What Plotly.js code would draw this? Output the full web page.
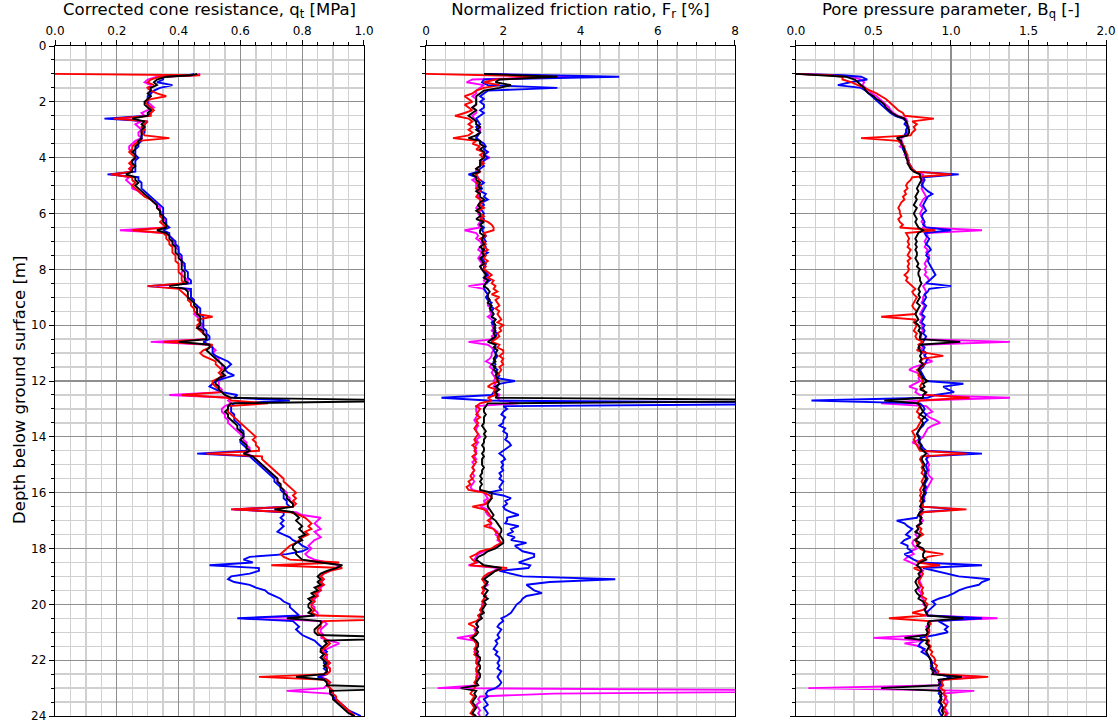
<!DOCTYPE html>
<html>
<head>
<meta charset="utf-8">
<script src="https://cdn.plot.ly/plotly-3.0.1.min.js"></script>
<style>html,body{margin:0;padding:0;background:#fff;}#chart{width:1118px;height:723px;}</style>
</head>
<body>
<div id="chart"></div>
<script>
// Depth below ground surface [m] (shared sampling for all series)
const depth = [1.0,1.05,
1.1,1.2,1.3,1.4,1.5,1.6,1.7,1.8,1.9,2.0,
2.1,2.2,2.3,2.4,2.5,2.6,2.7,2.8,2.9,3.0,
3.1,3.2,3.3,3.4,3.5,3.6,3.7,3.8,3.9,4.0,
4.1,4.2,4.3,4.4,4.5,4.6,4.7,4.8,4.9,5.0,
5.1,5.2,5.3,5.4,5.5,5.6,5.7,5.8,5.9,6.0,
6.1,6.2,6.3,6.4,6.5,6.6,6.7,6.8,6.9,7.0,
7.1,7.2,7.3,7.4,7.5,7.6,7.7,7.8,7.9,8.0,
8.1,8.2,8.3,8.4,8.5,8.6,8.7,8.8,8.9,9.0,
9.1,9.2,9.3,9.4,9.5,9.6,9.7,9.8,9.9,10.0,
10.1,10.2,10.3,10.4,10.5,10.6,10.7,10.8,10.9,11.0,
11.1,11.2,11.3,11.4,11.5,11.6,11.7,11.8,11.9,12.0,
12.1,12.2,12.3,12.4,12.5,12.6,12.7,12.8,12.9,13.0,
13.1,13.2,13.3,13.4,13.5,13.6,13.7,13.8,13.9,14.0,
14.1,14.2,14.3,14.4,14.5,14.6,14.7,14.8,14.9,15.0,
15.1,15.2,15.3,15.4,15.5,15.6,15.7,15.8,15.9,16.0,
16.1,16.2,16.3,16.4,16.5,16.6,16.7,16.8,16.9,17.0,
17.1,17.2,17.3,17.4,17.5,17.6,17.7,17.8,17.9,18.0,
18.1,18.2,18.3,18.4,18.5,18.6,18.7,18.8,18.9,19.0,
19.1,19.2,19.3,19.4,19.5,19.6,19.7,19.8,19.9,20.0,
20.1,20.2,20.3,20.4,20.5,20.6,20.7,20.8,20.9,21.0,
21.1,21.2,21.3,21.4,21.5,21.6,21.7,21.8,21.9,22.0,
22.1,22.2,22.3,22.4,22.5,22.6,22.7,22.8,22.9,23.0,
23.1,23.2,23.3,23.4,23.5,23.6,23.7,23.8,23.9,24.0];

// ---- Corrected cone resistance qt [MPa] ----
const qtRed = [0.00,0.47,
0.34,0.31,0.30,0.32,0.30,0.31,0.33,0.36,0.31,0.29,
0.30,0.31,0.32,0.31,0.31,0.19,0.30,0.29,0.28,0.29,
0.28,0.29,0.37,0.27,0.26,0.25,0.25,0.24,0.25,0.26,
0.25,0.24,0.25,0.24,0.25,0.18,0.25,0.25,0.26,0.25,
0.26,0.27,0.28,0.29,0.31,0.32,0.33,0.33,0.34,0.34,
0.34,0.35,0.34,0.35,0.36,0.25,0.35,0.36,0.36,0.37,
0.37,0.38,0.38,0.38,0.39,0.39,0.39,0.40,0.40,0.40,
0.40,0.41,0.41,0.41,0.42,0.30,0.40,0.41,0.42,0.43,
0.43,0.44,0.44,0.45,0.45,0.46,0.51,0.46,0.47,0.46,
0.46,0.47,0.48,0.49,0.49,0.35,0.51,0.50,0.48,0.47,
0.48,0.50,0.52,0.52,0.53,0.54,0.53,0.54,0.53,0.51,
0.51,0.52,0.53,0.54,0.41,0.56,0.57,0.69,0.56,0.56,
0.56,0.57,0.58,0.59,0.60,0.61,0.62,0.63,0.64,0.65,
0.64,0.65,0.65,0.66,0.66,0.49,0.67,0.67,0.68,0.69,
0.70,0.71,0.72,0.73,0.74,0.74,0.75,0.76,0.77,0.78,
0.77,0.78,0.77,0.78,0.77,0.57,0.76,0.79,0.81,0.82,
0.83,0.82,0.83,0.81,0.82,0.80,0.79,0.78,0.76,0.75,
0.74,0.73,0.74,0.76,0.92,0.70,0.93,0.89,0.87,0.86,
0.87,0.86,0.87,0.85,0.86,0.84,0.85,0.83,0.84,0.83,
0.83,0.84,0.83,0.85,1.20,0.87,0.86,0.86,0.85,0.85,
0.86,0.87,0.88,0.89,0.88,0.87,0.86,0.88,0.87,0.88,
0.89,0.88,0.89,0.89,0.88,0.66,0.88,0.89,0.88,0.89,
0.90,0.90,0.91,0.91,0.92,0.93,0.94,0.95,0.96,0.97];
const qtMagenta = [0.47,0.45,
0.33,0.30,0.29,0.31,0.30,0.31,0.31,0.31,0.30,0.30,
0.31,0.32,0.30,0.28,0.29,0.22,0.28,0.26,0.27,0.28,
0.27,0.27,0.28,0.26,0.25,0.24,0.24,0.25,0.26,0.26,
0.25,0.25,0.25,0.24,0.25,0.19,0.24,0.23,0.24,0.25,
0.25,0.27,0.28,0.30,0.31,0.32,0.33,0.34,0.34,0.35,
0.35,0.35,0.36,0.36,0.36,0.21,0.36,0.37,0.38,0.38,
0.39,0.39,0.40,0.40,0.40,0.41,0.41,0.41,0.42,0.42,
0.41,0.41,0.42,0.43,0.43,0.33,0.43,0.44,0.44,0.44,
0.45,0.45,0.46,0.46,0.46,0.45,0.46,0.47,0.47,0.48,
0.47,0.48,0.48,0.49,0.49,0.31,0.50,0.51,0.52,0.51,
0.52,0.53,0.53,0.54,0.54,0.55,0.54,0.55,0.54,0.53,
0.53,0.53,0.54,0.54,0.37,0.57,0.56,0.57,0.55,0.54,
0.54,0.55,0.55,0.56,0.56,0.57,0.58,0.59,0.60,0.61,
0.61,0.62,0.62,0.63,0.63,0.62,0.64,0.65,0.66,0.67,
0.68,0.69,0.70,0.71,0.72,0.72,0.73,0.73,0.74,0.75,
0.75,0.76,0.76,0.77,0.77,0.57,0.78,0.80,0.86,0.85,
0.84,0.85,0.86,0.84,0.85,0.86,0.84,0.83,0.82,0.83,
0.82,0.81,0.82,0.84,0.88,0.92,0.91,0.89,0.87,0.86,
0.87,0.86,0.87,0.86,0.86,0.85,0.85,0.84,0.84,0.83,
0.84,0.84,0.85,0.85,0.61,0.87,0.88,0.87,0.86,0.86,
0.87,0.86,0.89,0.92,0.90,0.88,0.87,0.88,0.88,0.88,
0.89,0.88,0.89,0.89,0.88,0.86,0.88,0.89,0.88,0.87,
0.75,0.89,0.90,0.90,0.92,0.93,0.94,0.95,0.96,0.96];
const qtBlue = [0.45,0.43,
0.35,0.35,0.33,0.38,0.34,0.32,0.31,0.30,0.30,0.30,
0.30,0.31,0.31,0.31,0.30,0.16,0.30,0.29,0.29,0.29,
0.29,0.28,0.28,0.28,0.27,0.27,0.26,0.26,0.26,0.27,
0.26,0.26,0.26,0.26,0.26,0.17,0.27,0.27,0.28,0.28,
0.28,0.29,0.30,0.31,0.32,0.33,0.34,0.35,0.35,0.35,
0.35,0.36,0.36,0.36,0.37,0.35,0.37,0.37,0.38,0.39,
0.39,0.40,0.40,0.40,0.41,0.41,0.41,0.42,0.42,0.42,
0.43,0.43,0.43,0.44,0.44,0.30,0.44,0.44,0.44,0.44,
0.45,0.45,0.46,0.47,0.47,0.47,0.48,0.48,0.48,0.48,
0.48,0.49,0.49,0.50,0.50,0.48,0.50,0.51,0.51,0.51,
0.52,0.54,0.56,0.57,0.56,0.55,0.56,0.58,0.55,0.52,
0.51,0.50,0.52,0.54,0.59,0.58,0.76,0.58,0.57,0.57,
0.57,0.58,0.58,0.58,0.59,0.60,0.60,0.61,0.61,0.61,
0.60,0.60,0.61,0.62,0.62,0.46,0.63,0.64,0.65,0.66,
0.67,0.68,0.69,0.70,0.71,0.71,0.72,0.73,0.73,0.74,
0.74,0.74,0.75,0.75,0.76,0.58,0.74,0.74,0.73,0.74,
0.73,0.74,0.73,0.72,0.74,0.76,0.77,0.79,0.80,0.82,
0.80,0.75,0.63,0.61,0.64,0.50,0.66,0.66,0.63,0.57,
0.56,0.58,0.63,0.65,0.68,0.69,0.71,0.73,0.74,0.76,
0.76,0.77,0.78,0.79,0.59,0.77,0.78,0.79,0.78,0.79,
0.80,0.82,0.84,0.85,0.86,0.87,0.88,0.87,0.86,0.87,
0.87,0.88,0.87,0.88,0.88,0.85,0.88,0.89,0.88,0.89,
0.89,0.90,0.90,0.91,0.92,0.93,0.94,0.95,0.97,0.99];
const qtBlack = [0.46,0.44,
0.36,0.33,0.32,0.33,0.31,0.31,0.30,0.31,0.30,0.29,
0.29,0.30,0.31,0.30,0.30,0.25,0.29,0.28,0.29,0.28,
0.28,0.28,0.28,0.27,0.27,0.26,0.26,0.25,0.26,0.26,
0.25,0.25,0.26,0.25,0.25,0.23,0.26,0.26,0.27,0.26,
0.27,0.28,0.29,0.30,0.31,0.32,0.33,0.33,0.34,0.34,
0.35,0.35,0.35,0.36,0.36,0.33,0.36,0.37,0.37,0.38,
0.38,0.39,0.39,0.39,0.40,0.40,0.41,0.41,0.41,0.41,
0.42,0.42,0.42,0.42,0.43,0.37,0.42,0.43,0.43,0.43,
0.44,0.45,0.45,0.46,0.46,0.46,0.47,0.47,0.47,0.47,
0.46,0.48,0.48,0.49,0.49,0.40,0.50,0.50,0.49,0.50,
0.51,0.52,0.53,0.54,0.55,0.55,0.54,0.55,0.53,0.52,
0.52,0.53,0.53,0.54,0.55,0.57,1.20,0.57,0.56,0.56,
0.55,0.56,0.56,0.57,0.58,0.59,0.59,0.60,0.61,0.61,
0.60,0.61,0.62,0.62,0.63,0.61,0.64,0.65,0.66,0.67,
0.68,0.69,0.70,0.71,0.72,0.72,0.73,0.73,0.74,0.74,
0.75,0.75,0.76,0.77,0.77,0.71,0.77,0.78,0.79,0.78,
0.79,0.80,0.79,0.80,0.81,0.79,0.80,0.78,0.77,0.77,
0.78,0.78,0.79,0.80,0.86,0.93,0.91,0.88,0.86,0.85,
0.86,0.85,0.86,0.84,0.85,0.83,0.84,0.82,0.83,0.82,
0.82,0.83,0.82,0.84,0.75,0.86,0.86,0.85,0.84,0.84,
0.85,1.20,0.87,0.88,0.87,0.86,0.86,0.87,0.86,0.87,
0.88,0.87,0.88,0.88,0.87,0.78,0.87,0.88,0.88,1.20,
0.89,0.89,0.90,0.90,0.91,0.92,0.93,0.94,0.95,0.97];

// ---- Normalized friction ratio Fr [%] ----
const frRed = [0.0,2.0,
3.3,1.8,1.5,1.9,1.5,1.3,1.2,1.0,1.1,1.2,
1.0,1.1,1.2,1.0,0.75,1.1,1.2,1.1,1.2,1.1,
1.2,1.1,0.7,1.3,1.2,1.4,1.3,1.5,1.4,1.5,
1.4,1.5,1.4,1.3,1.4,1.3,1.3,1.4,1.3,1.4,
1.3,1.4,1.35,1.3,1.4,1.45,1.4,1.5,1.35,1.4,
1.5,1.4,1.6,1.7,1.75,1.75,1.5,1.55,1.4,1.5,
1.55,1.5,1.6,1.45,1.55,1.5,1.6,1.5,1.55,1.5,
1.6,1.7,1.6,1.75,1.7,1.8,1.75,1.85,1.7,1.9,
1.8,1.85,1.9,1.8,1.9,1.85,1.9,1.95,1.85,2.0,
1.9,1.95,1.85,1.9,1.8,1.7,1.9,1.85,2.0,2.0,
1.9,2.0,1.95,2.0,1.9,1.95,1.9,1.85,1.8,1.9,
1.7,1.6,1.8,1.75,1.8,1.6,1.7,1.4,1.3,1.4,
1.35,1.3,1.4,1.3,1.35,1.3,1.25,1.3,1.35,1.3,
1.25,1.3,1.2,1.3,1.25,1.3,1.2,1.25,1.3,1.25,
1.2,1.25,1.2,1.15,1.2,1.1,1.15,1.05,1.1,1.5,
1.65,1.7,1.6,1.55,1.2,1.5,1.6,1.65,1.7,1.6,
1.7,1.5,1.75,1.8,1.9,1.85,1.9,1.95,1.8,1.7,
1.4,1.3,1.15,1.2,1.3,1.14,2.1,1.8,1.6,1.5,
1.45,1.5,1.55,1.45,1.5,1.45,1.55,1.5,1.45,1.5,
1.45,1.4,1.45,1.35,1.4,1.3,1.1,1.25,1.3,1.3,
1.25,1.15,1.25,1.3,1.3,1.25,1.3,1.25,1.35,1.3,
1.3,1.35,1.3,1.3,1.35,1.3,1.3,1.25,1.3,1.25,
1.2,1.15,1.25,1.2,1.15,1.2,1.25,1.2,1.15,1.25];
const frMagenta = [1.5,2.6,
3.7,1.2,1.05,1.5,1.4,1.3,1.3,1.2,1.3,1.3,
1.3,1.2,1.3,1.3,1.2,1.25,1.3,1.3,1.4,1.4,
1.4,1.3,1.3,1.4,1.4,1.5,1.5,1.6,1.5,1.65,
1.5,1.4,1.4,1.3,1.3,1.3,1.35,1.2,1.3,1.3,
1.3,1.35,1.4,1.35,1.4,1.4,1.35,1.3,1.4,1.35,
1.4,1.45,1.4,1.35,1.4,1.0,1.3,1.35,1.3,1.4,
1.45,1.4,1.35,1.45,1.4,1.35,1.4,1.45,1.4,1.45,
1.5,1.6,1.55,1.5,1.6,1.1,1.5,1.55,1.6,1.6,
1.65,1.6,1.6,1.7,1.65,1.7,1.6,1.7,1.75,1.7,
1.75,1.7,1.8,1.7,1.75,1.1,1.6,1.7,1.75,1.7,
1.7,1.65,1.55,1.7,1.65,1.75,1.7,1.75,1.8,1.75,
1.8,1.75,1.85,1.8,1.9,1.85,1.9,2.4,1.3,1.3,
1.3,1.35,1.3,1.25,1.3,1.35,1.3,1.3,1.35,1.4,
1.3,1.35,1.3,1.25,1.3,1.3,1.25,1.3,1.2,1.25,
1.2,1.25,1.2,1.25,1.2,1.25,1.2,1.15,1.2,1.5,
1.55,1.6,1.5,1.55,1.4,1.6,1.55,1.6,1.7,1.65,
1.7,1.65,1.75,1.85,1.8,1.9,1.85,1.95,1.85,1.75,
1.5,1.35,1.3,1.25,1.35,1.1,1.9,1.75,1.6,1.55,
1.5,1.55,1.6,1.5,1.5,1.45,1.55,1.5,1.5,1.45,
1.45,1.4,1.45,1.35,1.4,1.35,1.3,1.35,1.25,1.3,
1.25,0.8,1.25,1.3,1.35,1.3,1.25,1.35,1.3,1.35,
1.3,1.35,1.3,1.35,1.3,1.35,1.3,1.3,1.35,0.3,
12.0,3.3,1.4,1.35,1.4,1.3,1.35,1.4,1.35,1.4];
const frBlue = [1.5,3.0,
5.0,1.5,1.45,1.6,3.4,1.6,1.5,1.4,1.5,1.4,
1.5,1.5,1.4,1.5,1.4,1.3,1.35,1.4,1.3,1.35,
1.4,1.35,1.3,1.4,1.5,1.55,1.5,1.6,1.5,1.6,
1.5,1.45,1.5,1.4,1.35,1.1,1.3,1.4,1.5,1.4,
1.45,1.4,1.55,1.5,1.6,1.45,1.5,1.4,1.45,1.5,
1.45,1.5,1.45,1.4,1.5,1.45,1.5,1.55,1.5,1.55,
1.5,1.55,1.45,1.6,1.5,1.45,1.5,1.55,1.5,1.5,
1.55,1.6,1.5,1.65,1.55,1.5,1.5,1.55,1.6,1.55,
1.6,1.7,1.65,1.75,1.7,1.75,1.7,1.8,1.7,1.75,
1.8,1.75,1.85,1.8,1.75,1.7,1.8,1.8,1.75,1.8,
1.85,1.8,1.75,1.8,1.75,1.85,1.8,1.9,1.85,2.3,
1.9,1.85,1.8,1.75,1.7,0.4,1.6,12.0,2.0,2.1,
2.0,1.95,2.05,2.0,2.0,1.9,2.05,2.0,2.1,2.1,
2.05,2.15,2.2,2.1,2.0,1.9,2.0,2.05,1.95,2.0,
1.95,2.0,1.9,1.95,1.9,2.0,1.95,1.9,1.95,1.6,
2.0,2.2,2.05,2.1,2.0,2.05,2.2,2.4,2.1,2.1,
2.05,2.4,2.2,2.25,2.1,2.3,2.2,2.6,2.3,2.4,
2.5,2.8,2.8,2.6,2.4,2.7,2.65,1.9,2.2,2.5,
4.9,3.2,2.6,2.7,2.8,3.0,2.6,2.5,2.45,2.35,
2.3,2.25,2.2,2.1,1.95,2.0,1.9,1.85,1.95,1.9,
1.85,1.9,1.8,1.85,1.8,1.75,1.85,1.8,1.9,1.9,
1.85,1.9,1.85,1.95,1.9,1.85,1.9,1.95,1.9,1.8,
1.6,1.55,1.6,1.5,1.55,1.6,1.5,1.55,1.6,1.55];
const frBlack = [1.5,2.5,
3.4,1.9,1.8,2.2,1.9,1.5,1.4,1.3,1.3,1.3,
1.3,1.2,1.3,1.2,1.1,1.2,1.3,1.3,1.4,1.3,
1.4,1.3,1.1,1.4,1.4,1.5,1.4,1.5,1.5,1.5,
1.4,1.4,1.4,1.3,1.4,1.2,1.3,1.3,1.4,1.35,
1.4,1.3,1.4,1.4,1.5,1.4,1.35,1.4,1.3,1.4,
1.4,1.3,1.5,1.4,1.45,1.4,1.4,1.5,1.45,1.45,
1.5,1.4,1.5,1.45,1.5,1.4,1.45,1.5,1.4,1.45,
1.5,1.55,1.5,1.6,1.55,1.5,1.6,1.65,1.6,1.6,
1.65,1.6,1.7,1.65,1.7,1.75,1.7,1.8,1.75,1.8,
1.75,1.8,1.75,1.8,1.7,1.6,1.8,1.75,1.85,1.8,
1.8,1.75,1.8,1.7,1.8,1.75,1.85,1.8,1.85,1.85,
1.9,1.8,1.9,1.8,1.85,1.8,12.0,1.6,1.55,1.5,
1.5,1.55,1.5,1.5,1.5,1.45,1.5,1.55,1.5,1.55,
1.5,1.5,1.45,1.5,1.5,1.45,1.5,1.45,1.45,1.45,
1.5,1.45,1.45,1.4,1.45,1.4,1.45,1.4,1.4,1.7,
1.7,1.7,1.65,1.6,1.6,1.65,1.7,1.75,1.7,1.8,
1.85,1.9,1.95,1.95,1.9,1.95,2.0,2.0,1.9,1.8,
1.6,1.5,1.35,1.3,1.4,1.5,1.95,1.8,1.7,1.6,
1.5,1.6,1.55,1.5,1.6,1.55,1.5,1.6,1.5,1.55,
1.5,1.45,1.5,1.4,1.45,1.35,1.3,1.35,1.3,1.35,
1.3,1.2,1.3,1.35,1.35,1.3,1.35,1.3,1.4,1.4,
1.35,1.4,1.4,1.35,1.4,1.4,1.35,1.3,1.35,0.9,
1.3,1.25,1.3,1.25,1.2,1.25,1.3,1.25,1.2,1.3];

// ---- Pore pressure parameter Bq [-] ----
const bqRed = [0.00,0.22,
0.30,0.30,0.36,0.40,0.45,0.48,0.52,0.55,0.58,0.60,
0.62,0.64,0.66,0.69,0.70,0.89,0.75,0.78,0.76,0.77,
0.75,0.74,0.42,0.66,0.68,0.70,0.70,0.71,0.72,0.72,
0.72,0.73,0.74,0.75,0.77,1.00,0.75,0.74,0.72,0.71,
0.72,0.70,0.71,0.69,0.70,0.68,0.67,0.66,0.67,0.67,
0.68,0.66,0.67,0.69,0.67,0.90,0.71,0.72,0.73,0.72,
0.73,0.72,0.74,0.73,0.72,0.74,0.72,0.73,0.72,0.73,
0.72,0.70,0.72,0.71,0.73,0.75,0.77,0.75,0.76,0.78,
0.77,0.76,0.75,0.76,0.78,0.77,0.55,0.77,0.76,0.78,
0.77,0.76,0.78,0.77,0.78,0.82,0.79,0.80,0.78,0.85,
0.95,0.82,0.80,0.83,0.81,0.78,0.80,0.79,0.81,0.82,
0.81,0.80,0.82,0.83,0.84,1.12,0.80,0.78,0.80,0.79,
0.78,0.80,0.79,0.81,0.80,0.79,0.78,0.75,0.76,0.77,
0.76,0.77,0.78,0.79,0.80,1.10,0.81,0.80,0.81,0.82,
0.81,0.82,0.81,0.83,0.82,0.81,0.82,0.81,0.80,0.81,
0.80,0.81,0.80,0.82,0.81,1.10,0.82,0.80,0.81,0.80,
0.80,0.79,0.81,0.80,0.82,0.79,0.77,0.78,0.79,0.80,
0.83,0.95,0.85,0.82,0.78,0.93,0.76,0.80,0.82,0.81,
0.80,0.79,0.80,0.82,0.81,0.82,0.81,0.84,0.83,0.85,
0.84,0.82,0.75,0.84,0.60,0.86,0.87,0.85,0.86,0.86,
0.85,0.84,0.86,0.85,0.87,0.86,0.88,0.87,0.89,0.90,
0.89,0.91,0.90,0.92,0.91,1.24,0.95,0.94,0.95,0.93,
0.96,0.95,0.97,0.96,0.95,0.97,0.96,0.95,0.97,0.96];
const bqMagenta = [0.00,0.25,
0.36,0.42,0.44,0.43,0.45,0.47,0.49,0.52,0.54,0.56,
0.58,0.60,0.61,0.63,0.66,0.71,0.72,0.71,0.73,0.72,
0.72,0.71,0.68,0.68,0.69,0.67,0.70,0.71,0.70,0.72,
0.73,0.72,0.74,0.75,0.77,0.82,0.81,0.82,0.81,0.82,
0.81,0.82,0.83,0.84,0.82,0.81,0.80,0.82,0.81,0.80,
0.81,0.82,0.81,0.83,0.82,1.20,0.84,0.85,0.84,0.83,
0.84,0.83,0.85,0.84,0.86,0.85,0.84,0.83,0.84,0.83,
0.84,0.83,0.85,0.86,0.84,0.82,0.83,0.84,0.83,0.82,
0.82,0.81,0.83,0.82,0.81,0.80,0.82,0.81,0.80,0.82,
0.81,0.82,0.80,0.81,0.80,1.38,0.81,0.82,0.80,0.82,
0.83,0.84,0.88,0.82,0.76,0.73,0.78,0.80,0.79,0.80,
0.76,0.73,0.78,0.77,0.80,1.38,0.80,0.55,0.84,0.86,
0.88,0.84,0.86,0.90,0.93,0.88,0.85,0.84,0.83,0.82,
0.80,0.75,0.79,0.81,0.82,0.85,0.86,0.84,0.85,0.86,
0.85,0.86,0.85,0.86,0.88,0.87,0.86,0.85,0.84,0.83,
0.82,0.83,0.82,0.81,0.82,0.80,0.82,0.81,0.80,0.82,
0.80,0.78,0.79,0.78,0.77,0.79,0.76,0.75,0.76,0.78,
0.74,0.76,0.72,0.70,0.74,0.78,0.80,0.82,0.80,0.81,
0.79,0.80,0.81,0.80,0.79,0.81,0.80,0.82,0.83,0.82,
0.84,0.83,0.85,0.84,1.30,0.85,0.86,0.84,0.85,0.86,
0.84,0.50,0.82,0.70,0.80,0.82,0.84,0.85,0.86,0.87,
0.88,0.87,0.89,0.88,0.90,1.20,0.93,0.92,0.94,0.08,
1.15,0.95,0.96,0.97,0.98,0.97,0.96,0.97,0.98,0.97];
const bqBlue = [0.00,0.30,
0.42,0.46,0.35,0.27,0.42,0.45,0.47,0.49,0.51,0.53,
0.55,0.57,0.59,0.61,0.64,0.69,0.71,0.70,0.72,0.71,
0.71,0.70,0.66,0.67,0.68,0.69,0.69,0.70,0.71,0.72,
0.72,0.73,0.74,0.75,0.77,1.05,0.82,0.83,0.82,0.81,
0.83,0.85,0.88,0.85,0.84,0.83,0.82,0.83,0.84,0.82,
0.81,0.82,0.83,0.82,0.84,1.00,0.83,0.84,0.86,0.85,
0.84,0.86,0.87,0.85,0.84,0.86,0.85,0.86,0.87,0.88,
0.89,0.90,0.88,0.86,0.84,1.00,0.86,0.85,0.83,0.84,
0.83,0.82,0.84,0.83,0.82,0.81,0.83,0.82,0.81,0.83,
0.82,0.83,0.82,0.84,0.83,0.82,0.81,0.83,0.82,0.84,
0.83,0.85,0.84,0.83,0.82,0.80,0.81,0.82,0.83,0.84,
1.08,0.95,0.98,1.02,0.90,0.85,0.10,0.80,0.82,0.83,
0.82,0.84,0.83,0.85,0.83,0.82,0.80,0.79,0.78,0.80,
0.79,0.80,0.81,0.82,0.84,1.20,0.85,0.84,0.85,0.84,
0.84,0.85,0.83,0.84,0.85,0.84,0.83,0.84,0.83,0.84,
0.83,0.82,0.83,0.81,0.82,1.05,0.80,0.79,0.78,0.65,
0.70,0.72,0.75,0.73,0.71,0.74,0.70,0.68,0.72,0.72,
0.75,0.70,0.73,0.76,0.80,1.20,0.82,0.90,0.98,1.05,
1.25,1.20,1.18,1.10,1.05,1.02,0.98,0.92,0.88,0.90,
0.88,0.86,0.84,0.85,1.20,0.92,0.95,0.98,0.96,0.98,
0.90,0.80,0.82,0.80,0.79,0.83,0.81,0.84,0.86,0.87,
0.88,0.87,0.89,0.90,0.91,1.00,0.95,0.93,0.94,0.92,
0.93,0.92,0.94,0.93,0.92,0.94,0.93,0.92,0.93,0.94];
const bqBlack = [0.00,0.20,
0.32,0.38,0.40,0.42,0.44,0.45,0.47,0.50,0.52,0.55,
0.57,0.58,0.60,0.62,0.65,0.70,0.71,0.72,0.72,0.73,
0.73,0.72,0.65,0.68,0.68,0.69,0.70,0.70,0.71,0.71,
0.72,0.72,0.73,0.74,0.76,0.80,0.80,0.81,0.80,0.79,
0.78,0.79,0.78,0.77,0.78,0.77,0.76,0.78,0.77,0.76,
0.77,0.78,0.77,0.78,0.79,0.82,0.79,0.78,0.77,0.78,
0.77,0.78,0.77,0.78,0.78,0.77,0.78,0.79,0.78,0.80,
0.79,0.79,0.80,0.80,0.81,0.80,0.79,0.80,0.79,0.80,
0.79,0.78,0.80,0.79,0.78,0.77,0.78,0.79,0.77,0.79,
0.80,0.79,0.81,0.80,0.80,1.06,0.80,0.79,0.80,0.81,
0.80,0.81,0.80,0.82,0.80,0.79,0.80,0.81,0.82,0.85,
0.82,0.83,0.80,0.84,0.82,0.82,0.57,0.79,0.80,0.81,
0.82,0.80,0.83,0.81,0.82,0.81,0.80,0.79,0.78,0.79,
0.80,0.79,0.81,0.80,0.82,0.84,0.82,0.81,0.82,0.83,
0.82,0.83,0.84,0.83,0.84,0.83,0.82,0.83,0.82,0.83,
0.82,0.81,0.82,0.81,0.80,0.82,0.80,0.79,0.81,0.80,
0.81,0.78,0.79,0.77,0.80,0.79,0.77,0.80,0.78,0.82,
0.83,0.82,0.82,0.84,0.80,0.78,0.80,0.81,0.79,0.80,
0.78,0.77,0.78,0.79,0.77,0.78,0.80,0.79,0.82,0.83,
0.84,0.83,0.84,0.85,1.08,0.86,0.85,0.86,0.84,0.85,
0.84,0.70,0.85,0.84,0.86,0.85,0.84,0.85,0.86,0.87,
0.87,0.88,0.87,0.89,0.88,1.07,0.92,0.93,0.92,0.55,
0.93,0.94,0.93,0.94,0.93,0.94,0.95,0.94,0.95,0.94];

const panelTitles = ['Corrected cone resistance, q<sub>t</sub> [MPa]',
                     'Normalized friction ratio, F<sub>r</sub> [%]',
                     'Pore pressure parameter, B<sub>q</sub> [-]'];
const yTitle = 'Depth below ground surface [m]';

const colors = {red:'#ff0000', magenta:'#ff00ff', blue:'#0000ff', black:'#000000'};
function tr(x, color, xa, ya) {
  return {x: x, y: depth, xaxis: xa, yaxis: ya, type: 'scatter', mode: 'lines',
          line: {color: color, width: 1.9}, showlegend: false};
}
const traces = [
  tr(qtMagenta, colors.magenta, 'x', 'y'), tr(qtBlue, colors.blue, 'x', 'y'), tr(qtRed, colors.red, 'x', 'y'), tr(qtBlack, colors.black, 'x', 'y'),
  tr(frMagenta, colors.magenta, 'x2', 'y2'), tr(frBlue, colors.blue, 'x2', 'y2'), tr(frRed, colors.red, 'x2', 'y2'), tr(frBlack, colors.black, 'x2', 'y2'),
  tr(bqMagenta, colors.magenta, 'x3', 'y3'), tr(bqBlue, colors.blue, 'x3', 'y3'), tr(bqRed, colors.red, 'x3', 'y3'), tr(bqBlack, colors.black, 'x3', 'y3')
];

// minor grid/tick positions that skip the major ones (so minor lines never cover major lines)
function minorPositions(max, step, perMajor) {
  const out = [];
  const n = Math.round(max / step);
  for (let k = 1; k < n; k++) if (k % perMajor !== 0) out.push(+(k * step).toFixed(4));
  return out;
}

const FONT = 'DejaVu Sans, sans-serif';
const majorGrid = '#8f8f8f', minorGrid = '#d0d0d0';
function minorCfg(vals) {
  return {tickmode: 'array', tickvals: vals, showgrid: true, gridcolor: minorGrid, gridwidth: 1.4,
          ticks: 'outside', ticklen: 3, tickcolor: '#000'};
}
function xax(domain, anchor, range, dtick, minorVals, fmt, title) {
  return {domain: domain, anchor: anchor, side: 'top', range: range, dtick: dtick, tick0: 0,
    tickformat: fmt, showgrid: true, gridcolor: majorGrid, gridwidth: 1.3,
    minor: minorCfg(minorVals),
    showline: true, linecolor: '#000', linewidth: 1.2, mirror: true,
    ticks: 'outside', ticklen: 5, tickcolor: '#000', zeroline: false,
    ticklabeloverflow: 'allow',
    tickfont: {family: FONT, size: 12, color: '#000'},
    title: {text: title, font: {family: FONT, size: 16.5, color: '#000'}, standoff: 4},
    automargin: false, fixedrange: true};
}
function yax(anchor, labels) {
  return {anchor: anchor, domain: [0, 1], range: [24, 0], dtick: 2, tick0: 0,
    showgrid: true, gridcolor: majorGrid, gridwidth: 1.3,
    minor: minorCfg(minorPositions(24, 0.5, 4)),
    showline: true, linecolor: '#000', linewidth: 1.2, mirror: true,
    ticks: 'outside', ticklen: 5, tickcolor: '#000', zeroline: false,
    ticklabeloverflow: 'allow',
    showticklabels: labels, tickfont: {family: FONT, size: 12, color: '#000'},
    automargin: false, fixedrange: true};
}

// white covers for the empty gaps between the panels (keeps stray lines out of the gaps)
const PLOT_W = 1118 - 55 - 12;
function gapCover(x0px, x1px) {
  return {type: 'rect', xref: 'paper', yref: 'paper', layer: 'above',
          x0: (x0px - 55) / PLOT_W, x1: (x1px - 55) / PLOT_W, y0: -0.002, y1: 1.002,
          fillcolor: '#ffffff', line: {width: 0}};
}

const layout = {
  width: 1118, height: 723,
  margin: {l: 55, r: 12, t: 46, b: 7},
  paper_bgcolor: '#fff', plot_bgcolor: '#fff',
  font: {family: FONT, color: '#000'},
  showlegend: false,
  xaxis:  xax([0, 0.294], 'y',  [0, 1], 0.2, minorPositions(1, 0.05, 4), '.1f', panelTitles[0]),
  xaxis2: xax([0.353, 0.647], 'y2', [0, 8], 2, minorPositions(8, 0.5, 4), 'd', panelTitles[1]),
  xaxis3: xax([0.705, 1.0], 'y3', [0, 2], 0.5, minorPositions(2, 0.125, 4), '.1f', panelTitles[2]),
  yaxis:  yax('x', true),
  yaxis2: yax('x2', false),
  yaxis3: yax('x3', false),
  shapes: [gapCover(366, 420), gapCover(736.5, 790)],
  annotations: [{text: yTitle, xref: 'paper', yref: 'paper', x: -0.0333, y: 0.4866,
                 xanchor: 'center', yanchor: 'middle', textangle: -90, showarrow: false,
                 font: {family: FONT, size: 16.5, color: '#000'}}]
};

Plotly.newPlot('chart', traces, layout, {staticPlot: true, displayModeBar: false});
</script>
</body>
</html>
